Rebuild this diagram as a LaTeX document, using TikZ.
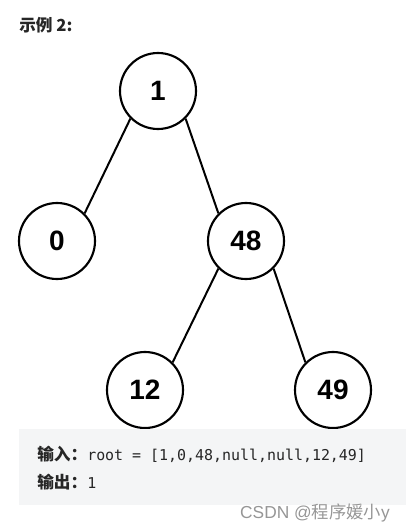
\documentclass[tikz,border=0pt]{standalone}
\usepackage{fontspec}
\setmainfont{Liberation Sans}
\setmonofont{DejaVu Sans Mono}
\newfontfamily\cjk{Noto Sans CJK SC}
\usetikzlibrary{positioning}
\definecolor{boxgray}{RGB}{244,245,246}
\definecolor{textdark}{RGB}{38,38,38}
\definecolor{markgray}{RGB}{150,150,150}
\tikzset{
  treenode/.style={circle, draw=black, line width=1.6pt, minimum size=57pt, inner sep=0pt, font=\fontsize{21}{21}\selectfont\bfseries},
  edgeline/.style={line width=1.5pt},
  codeline/.style={anchor=west, inner sep=0pt, text=textdark, font=\fontsize{11.2}{13}\selectfont},
}
\begin{document}
\begin{tikzpicture}[x=0.75pt,y=-0.75pt]
\useasboundingbox (0,0) rectangle (406,531);
% title
\node[anchor=west, inner sep=0pt, text=textdark, font=\cjk\bfseries\fontsize{12.5}{14}\selectfont] (title) at (19,25) {示例 2:};
% tree
\node[treenode] (n1) at (158,91) {1};
\node[treenode] (n0) at (57,241) {0};
\node[treenode] (n48) at (246,241) {48};
\node[treenode] (n12) at (145,390) {12};
\node[treenode] (n49) at (333,390) {49};
\draw[edgeline] (n1.225) -- (n0.45);
\draw[edgeline] (n1.315) -- (n48.135);
\draw[edgeline] (n48.225) -- (n12.45);
\draw[edgeline] (n48.315) -- (n49.135);
% example box
\fill[boxgray] (19,429) rectangle (406,505);
\node[codeline] (input) at (37,454) {{\cjk\bfseries\fontsize{12.5}{14}\selectfont 输入：}\texttt{root = [1,0,48,null,null,12,49]}};
\node[codeline] (output) at (37,482) {{\cjk\bfseries\fontsize{12.5}{14}\selectfont 输出：}\texttt{1}};
% watermark
\node[anchor=east, inner sep=0pt, text=markgray, font=\fontsize{13}{15}\selectfont] (mark) at (390,513) {CSDN @{\cjk 程序媛小}y};
\end{tikzpicture}
\end{document}
